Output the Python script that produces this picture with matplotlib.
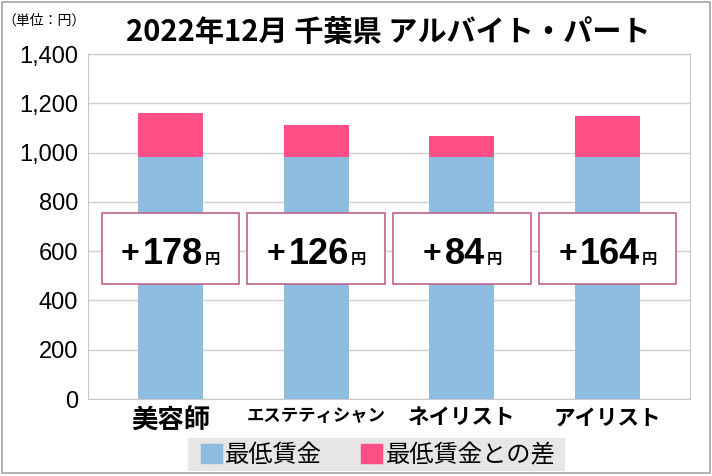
import matplotlib.pyplot as plt
from matplotlib.patches import Rectangle

plt.rcParams['font.family'] = ['Noto Sans CJK JP', 'DejaVu Sans']

# data
jobs = ['美容師', 'エステティシャン', 'ネイリスト', 'アイリスト']
min_wage = [984, 984, 984, 984]
diff = [178, 126, 84, 164]
yticks = [0, 200, 400, 600, 800, 1000, 1200, 1400]

blue = '#8dbde0'
pink = '#ff4f86'

fig = plt.figure(figsize=(7.12, 4.76), dpi=100)
fig.patches.append(Rectangle((0.003, 0.006), 0.994, 0.99, transform=fig.transFigure,
                             fill=False, edgecolor='#a6a6a6', linewidth=1.2))

# axes box in pixels: left 88, right 690, top 54, bottom 399
W, H = 712, 476
ax = fig.add_axes([88 / W, 1 - 399 / H, (690 - 88) / W, (399 - 54) / H])

x = range(len(jobs))
ax.bar(x, min_wage, width=0.445, color=blue, zorder=2)
ax.bar(x, diff, bottom=min_wage, width=0.445, color=pink, zorder=2)

ax.set_xlim(-0.565, 3.565)
ax.set_ylim(0, 1400)
ax.set_yticks(yticks)
ax.set_yticklabels([f'{v:,}' for v in yticks], family='Liberation Sans', fontsize=17)
ax.grid(axis='y', color='#d0d0d0', linewidth=1, zorder=0)
for s in ax.spines.values():
    s.set_color('#c8c8c8')
ax.tick_params(axis='y', length=0, pad=7)
ax.tick_params(axis='x', length=0, pad=6)
ax.set_xticks(list(x))
ax.set_xticklabels(jobs, fontweight='bold')
for lab, fs in zip(ax.get_xticklabels(), [19, 12.5, 15.5, 15.5]):
    lab.set_fontsize(fs)

# difference boxes
px = 0.72  # points per pixel
for i, d in enumerate(diff):
    ax.add_patch(Rectangle((i - 0.472, 468), 0.944, 286, facecolor='white',
                           edgecolor='#c0648f', linewidth=1.2, zorder=3))
    n = len(str(d))
    w = 17 + 5 + 20 * n + 2 + 15
    start = -w / 2
    ax.annotate('+', (i, 547), xytext=(start * px, 2 * px), textcoords='offset points',
                ha='left', va='baseline', fontsize=23, fontweight='bold',
                family='Liberation Sans', zorder=4)
    ax.annotate(str(d), (i, 547), xytext=((start + 22) * px, 0), textcoords='offset points',
                ha='left', va='baseline', fontsize=26, fontweight='bold',
                family='Liberation Sans', zorder=4)
    ax.annotate('円', (i, 547), xytext=((start + 22 + 20 * n + 2) * px, 0),
                textcoords='offset points', ha='left', va='baseline', fontsize=11,
                fontweight='bold', zorder=4)

fig.text(0.545, 0.932, '2022年12月 千葉県 アルバイト・パート', ha='center', va='center',
         fontsize=21, fontweight='bold')
fig.text(0.062, 0.957, '（単位：円）', ha='center', va='center', fontsize=10)

# legend
fig.patches.append(Rectangle((188 / W, 1 - 471 / H), 377 / W, 33 / H, transform=fig.transFigure,
                             facecolor='#e6e6e6', edgecolor='none'))
fig.legend(handles=[Rectangle((0, 0), 1, 1, color=blue), Rectangle((0, 0), 1, 1, color=pink)],
           labels=['最低賃金', '最低賃金との差'], loc='center', bbox_to_anchor=(378 / W, 1 - 455 / H),
           ncol=2, frameon=False, fontsize=17.5, handlelength=0.85, handleheight=0.85,
           handletextpad=0.15, columnspacing=1.6)

fig.savefig('out.png', dpi=100)
